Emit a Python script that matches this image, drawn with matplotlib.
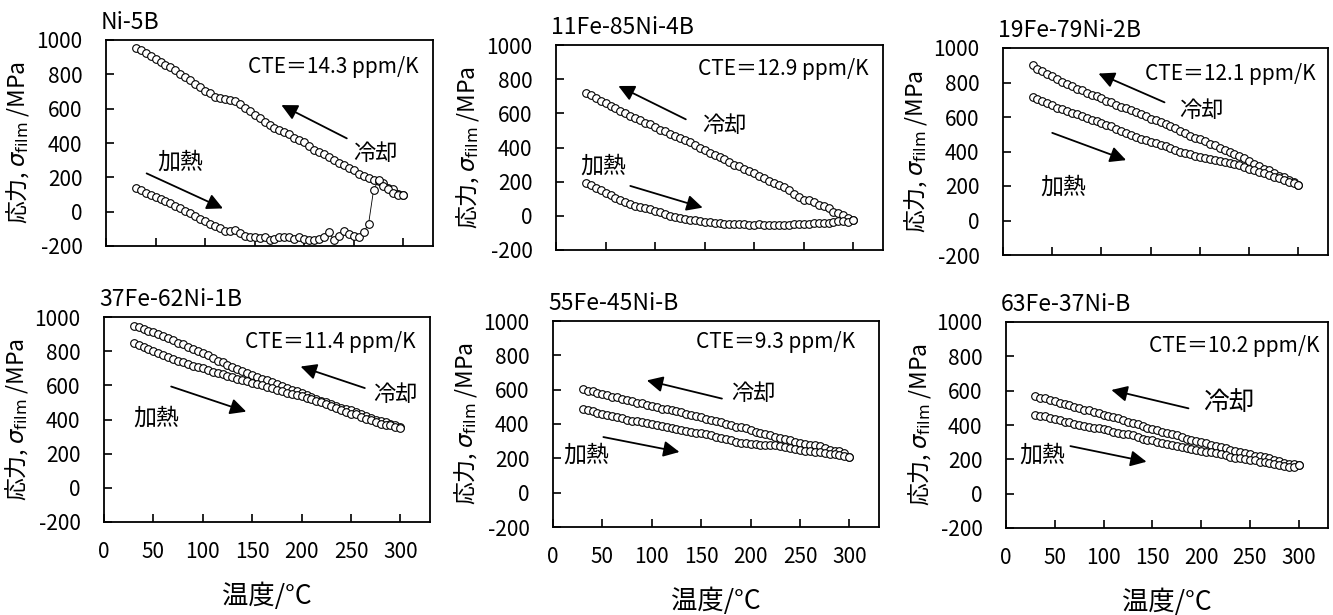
import numpy as np
import matplotlib.pyplot as plt

plt.rcParams['font.family'] = ['Noto Sans CJK JP', 'DejaVu Sans']
plt.rcParams['axes.unicode_minus'] = False
plt.rcParams['mathtext.fontset'] = 'dejavusans'

# temperature grid (deg C)
temp = [30, 35, 40, 45, 50, 55, 60, 65, 70, 75, 80, 85, 90, 95, 100,
        105, 110, 115, 120, 125, 130, 135, 140, 145, 150, 155, 160, 165, 170, 175,
        180, 185, 190, 195, 200, 205, 210, 215, 220, 225, 230, 235, 240, 245, 250,
        255, 260, 265, 270, 275, 280, 285, 290, 295, 300]

# Ni-5B
ni5b_cool = [955, 940, 925, 905, 890, 870, 855, 840, 825, 800, 785, 765, 745, 725, 705,
             690, 670, 660, 655, 650, 645, 625, 605, 585, 565, 545, 525, 505, 490, 475,
             465, 450, 430, 420, 405, 380, 360, 345, 335, 320, 300, 285, 270, 255, 240,
             220, 205, 195, 185, 180, 165, 140, 130, 105, 95]
ni5b_heat = [140, 125, 110, 95, 85, 75, 65, 50, 35, 20, 5, -10, -25, -40, -55,
             -70, -85, -95, -110, -115, -105, -125, -140, -150, -150, -155, -150, -165, -160, -150,
             -145, -150, -160, -150, -160, -165, -165, -160, -150, -120, -165, -140, -110, -130, -140,
             -150, -120, -70, 125, 185, 150, 130, 110, 100, 100]

# 11Fe-85Ni-4B
fe11_cool = [720, 705, 690, 675, 660, 645, 630, 615, 600, 585, 570, 560, 545, 535, 520,
             505, 495, 480, 465, 455, 445, 430, 415, 400, 385, 370, 355, 345, 330, 315,
             300, 290, 275, 260, 250, 235, 220, 205, 195, 180, 170, 150, 130, 110, 95,
             90, 80, 65, 55, 45, 25, 15, 5, -10, -25]
fe11_heat = [195, 180, 165, 150, 135, 120, 105, 90, 80, 70, 60, 50, 45, 40, 30,
             20, 10, 0, -5, -10, -20, -25, -25, -30, -35, -35, -40, -40, -45, -45,
             -50, -50, -50, -55, -55, -45, -55, -55, -55, -55, -55, -55, -50, -50, -45,
             -45, -40, -40, -40, -40, -35, -30, -30, -35, -25]

# 19Fe-79Ni-2B
fe19_cool = [900, 880, 865, 850, 835, 820, 805, 790, 780, 765, 755, 740, 730, 720, 710,
             695, 685, 670, 660, 650, 640, 630, 615, 605, 590, 580, 570, 560, 545, 535,
             520, 505, 490, 480, 470, 460, 445, 435, 420, 410, 400, 385, 375, 360, 345,
             330, 315, 300, 290, 275, 260, 250, 235, 225, 205]
fe19_heat = [715, 705, 690, 680, 670, 655, 645, 635, 625, 615, 605, 595, 585, 575, 565,
             555, 545, 530, 520, 510, 495, 485, 475, 465, 455, 450, 440, 430, 420, 410,
             400, 390, 385, 375, 370, 365, 355, 350, 345, 340, 335, 330, 320, 310, 300,
             290, 280, 275, 265, 255, 245, 235, 225, 220, 205]

# 37Fe-62Ni-1B
fe37_cool = [950, 940, 930, 920, 910, 900, 890, 880, 865, 850, 840, 825, 815, 800, 790,
             775, 760, 745, 735, 720, 710, 695, 685, 675, 660, 650, 640, 630, 620, 605,
             595, 585, 575, 565, 555, 545, 530, 520, 510, 500, 490, 480, 470, 460, 455,
             445, 430, 420, 410, 400, 390, 385, 375, 365, 355]
fe37_heat = [845, 835, 825, 810, 800, 790, 775, 765, 755, 745, 735, 725, 715, 705, 700,
             690, 680, 670, 665, 655, 650, 640, 630, 625, 615, 605, 600, 590, 585, 575,
             565, 555, 550, 545, 540, 525, 520, 510, 500, 490, 480, 470, 455, 445, 435,
             430, 415, 405, 395, 385, 375, 370, 365, 355, 350]

# 55Fe-45Ni-B
fe55_cool = [605, 595, 590, 580, 575, 570, 560, 555, 545, 540, 535, 525, 520, 510, 505,
             500, 490, 485, 480, 475, 470, 460, 455, 445, 440, 430, 425, 415, 410, 400,
             395, 385, 380, 375, 365, 355, 350, 340, 335, 325, 320, 310, 305, 295, 290,
             285, 280, 280, 270, 260, 250, 245, 240, 230, 210]
fe55_heat = [490, 480, 475, 465, 460, 455, 445, 440, 435, 425, 420, 415, 410, 405, 400,
             395, 390, 380, 375, 370, 365, 360, 355, 350, 345, 340, 335, 325, 320, 310,
             305, 295, 290, 290, 285, 285, 280, 280, 275, 275, 270, 265, 260, 255, 250,
             245, 240, 235, 235, 230, 225, 225, 220, 215, 210]

# 63Fe-37Ni-B
fe63_cool = [570, 560, 555, 545, 540, 530, 520, 515, 505, 500, 490, 485, 475, 470, 460,
             455, 445, 440, 430, 420, 410, 405, 395, 385, 375, 370, 360, 355, 345, 340,
             330, 320, 315, 305, 300, 295, 285, 280, 270, 265, 255, 250, 240, 235, 230,
             220, 220, 215, 205, 195, 190, 180, 175, 170, 165]
fe63_heat = [460, 455, 450, 440, 435, 430, 420, 415, 405, 400, 395, 390, 385, 380, 375,
             370, 360, 355, 350, 345, 340, 330, 320, 315, 310, 300, 295, 290, 285, 275,
             270, 265, 260, 255, 250, 245, 240, 235, 230, 225, 215, 210, 205, 200, 195,
             195, 185, 185, 180, 175, 165, 160, 155, 155, 165]

titles = ['Ni-5B', '11Fe-85Ni-4B', '19Fe-79Ni-2B',
          '37Fe-62Ni-1B', '55Fe-45Ni-B', '63Fe-37Ni-B']
cte = ['14.3', '12.9', '12.1', '11.4', '9.3', '10.2']
cool = [ni5b_cool, fe11_cool, fe19_cool, fe37_cool, fe55_cool, fe63_cool]
heat = [ni5b_heat, fe11_heat, fe19_heat, fe37_heat, fe55_heat, fe63_heat]

# annotation layout: cte (x, y), cool arrow tail/head, cool text, heat arrow tail/head, heat text
cte_pos = [(143, 845), (143, 858), (144, 852), (143, 854), (145, 878), (147, 858)]
cool_arrow = [((243, 427), (177, 621)), ((131, 565), (63, 760)), ((164, 685), (97, 852)),
              ((264, 584), (199, 710)), ((171, 548), (95, 654)), ((187, 497), (108, 604))]
cool_txt = [(272, 340), (170, 526), (202, 636), (295, 545), (203, 577), (228, 526)]
heat_arrow = [((41, 223), (118, 19)), ((75, 175), (148, 48)), ((50, 508), (125, 350)),
              ((68, 593), (144, 446)), ((51, 324), (128, 237)), ((66, 277), (144, 186))]
heat_txt = [(75, 291), (48, 292), (61, 193), (53, 409), (34, 217), (37, 227)]
cool_fs = [16, 16, 16, 16, 16, 18.5]

W, H = 1333, 615
boxes = [(106, 433, 40, 246), (556, 883, 45, 250), (1003, 1328, 48, 255),
         (104, 430, 317, 522), (553, 879, 321, 527), (1006, 1328, 322, 528)]

fig = plt.figure(figsize=(W / 100, H / 100), dpi=100)

for i in range(6):
    l, r, t, b = boxes[i]
    ax = fig.add_axes([l / W, (H - b) / H, (r - l) / W, (b - t) / H])
    ax.plot(temp, cool[i], color='black', lw=0.6, marker='o', ms=5.5,
            mfc='white', mec='black', mew=0.8)
    ax.plot(temp, heat[i], color='black', lw=0.6, marker='o', ms=5.5,
            mfc='white', mec='black', mew=0.8)
    ax.set_xlim(0, 330)
    ax.set_ylim(-200, 1000)
    ax.set_xticks([0, 50, 100, 150, 200, 250, 300])
    ax.set_yticks([-200, 0, 200, 400, 600, 800, 1000])
    ax.tick_params(direction='in', length=6, width=1.2, labelsize=15)
    ax.tick_params(axis='y', pad=17)
    ax.tick_params(axis='x', pad=14)
    for s in ax.spines.values():
        s.set_linewidth(1.3)
    if i < 3:
        ax.set_xticklabels([])
    else:
        ax.set_xlabel('温度/°C', fontsize=19, labelpad=14)
    ax.set_ylabel('応力, $\\sigma_{\\rm film}$ /MPa', fontsize=16.5)
    ax.yaxis.set_label_coords(-0.228, 0.5)
    ax.text(-0.015, 1.03, titles[i], transform=ax.transAxes, ha='left', va='bottom',
            fontsize=16.5)
    ax.text(cte_pos[i][0], cte_pos[i][1], 'CTE＝' + cte[i] + ' ppm/K',
            ha='left', va='center', fontsize=15)
    tail, head = cool_arrow[i]
    ax.annotate('', xy=head, xytext=tail,
                arrowprops=dict(arrowstyle='-|>', color='black', lw=1.3,
                                mutation_scale=24, shrinkA=0, shrinkB=0))
    ax.text(cool_txt[i][0], cool_txt[i][1], '冷却', ha='center', va='center',
            fontsize=cool_fs[i])
    tail, head = heat_arrow[i]
    ax.annotate('', xy=head, xytext=tail,
                arrowprops=dict(arrowstyle='-|>', color='black', lw=1.3,
                                mutation_scale=24, shrinkA=0, shrinkB=0))
    ax.text(heat_txt[i][0], heat_txt[i][1], '加熱', ha='center', va='center',
            fontsize=16.5)

plt.savefig('out.png', dpi=100)
